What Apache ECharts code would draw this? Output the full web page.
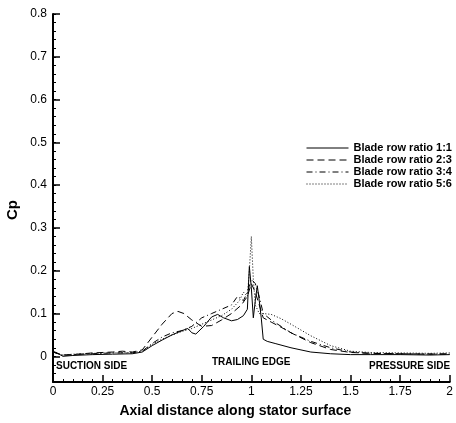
<!DOCTYPE html>
<html><head><meta charset="utf-8">
<script src="https://cdn.jsdelivr.net/npm/echarts@6/dist/echarts.min.js"></script>
<style>html,body{margin:0;padding:0;background:#fff}#c{width:456px;height:423px}</style>
</head><body><div id="c"></div>
<script>
var seriesNames = ['Blade row ratio 1:1','Blade row ratio 2:3','Blade row ratio 3:4','Blade row ratio 5:6'];
var xTicks = [0,0.25,0.5,0.75,1,1.25,1.5,1.75,2];
var yTicks = [0,0.1,0.2,0.3,0.4,0.5,0.6,0.7,0.8];
var yMinor = [-0.06,-0.04,-0.02,0,0.02,0.04,0.06,0.08,0.1,0.12,0.14,0.16,0.18,0.2,0.22,0.24,0.26,0.28,0.3,0.32,0.34,0.36,0.38,0.4,0.42,0.44,0.46,0.48,0.5,0.52,0.54,0.56,0.58,0.6,0.62,0.64,0.66,0.68,0.7,0.72,0.74,0.76,0.78,0.8];
var ratio11 = [[0,0.012],[0.02,0.008],[0.05,0.0],[0.1,0.002],[0.2,0.004],[0.3,0.005],[0.4,0.006],[0.45,0.01],[0.5,0.025],[0.55,0.038],[0.6,0.05],[0.65,0.06],[0.68,0.065],[0.7,0.055],[0.72,0.052],[0.76,0.07],[0.8,0.092],[0.83,0.098],[0.86,0.09],[0.9,0.083],[0.93,0.086],[0.96,0.095],[0.98,0.11],[0.99,0.21],[1.0,0.16],[1.01,0.09],[1.02,0.13],[1.03,0.165],[1.04,0.13],[1.05,0.09],[1.06,0.04],[1.08,0.035],[1.12,0.03],[1.2,0.02],[1.3,0.01],[1.4,0.006],[1.5,0.004],[1.6,0.004],[1.75,0.004],[1.9,0.003],[2.0,0.004]];
var ratio23 = [[0,0.01],[0.05,0.003],[0.1,0.004],[0.2,0.008],[0.3,0.01],[0.35,0.012],[0.4,0.01],[0.45,0.015],[0.5,0.045],[0.55,0.075],[0.6,0.1],[0.63,0.105],[0.66,0.1],[0.7,0.085],[0.75,0.07],[0.8,0.072],[0.85,0.085],[0.9,0.1],[0.95,0.12],[0.98,0.14],[1.0,0.17],[1.02,0.15],[1.04,0.12],[1.06,0.09],[1.1,0.08],[1.15,0.068],[1.2,0.055],[1.3,0.032],[1.4,0.016],[1.5,0.009],[1.6,0.007],[1.75,0.006],[1.9,0.005],[2.0,0.006]];
var ratio34 = [[0,0.01],[0.05,0.002],[0.1,0.004],[0.2,0.006],[0.3,0.008],[0.4,0.008],[0.45,0.012],[0.5,0.03],[0.55,0.045],[0.6,0.055],[0.65,0.06],[0.7,0.07],[0.75,0.09],[0.8,0.1],[0.85,0.11],[0.9,0.12],[0.93,0.14],[0.96,0.13],[0.98,0.15],[1.0,0.18],[1.02,0.17],[1.04,0.14],[1.06,0.1],[1.1,0.085],[1.15,0.07],[1.2,0.055],[1.3,0.035],[1.4,0.02],[1.5,0.01],[1.6,0.007],[1.75,0.006],[2.0,0.005]];
var ratio56 = [[0,0.01],[0.05,0.003],[0.1,0.005],[0.2,0.007],[0.3,0.008],[0.4,0.009],[0.45,0.012],[0.5,0.028],[0.55,0.04],[0.6,0.05],[0.65,0.058],[0.7,0.065],[0.75,0.075],[0.8,0.085],[0.85,0.095],[0.9,0.11],[0.94,0.13],[0.96,0.15],[0.98,0.14],[0.99,0.2],[1.0,0.28],[1.01,0.18],[1.02,0.12],[1.04,0.1],[1.06,0.1],[1.1,0.098],[1.15,0.088],[1.2,0.075],[1.3,0.048],[1.4,0.025],[1.5,0.012],[1.6,0.009],[1.75,0.008],[1.9,0.007],[2.0,0.008]];
var annotations = ['SUCTION SIDE','TRAILING EDGE','PRESSURE SIDE'];
var yTitle = 'Cp';

var FONT = 'Liberation Sans, Arial, sans-serif';
var dashTypes = ['solid',[7,4],[6,3,1,3],[1,2]];
var allData = [ratio11, ratio23, ratio34, ratio56];
var chart = echarts.init(document.getElementById('c'));
chart.setOption({
  animation:false,
  backgroundColor:'#fff',
  grid:{left:53,right:6,top:14,bottom:38},
  legend:{
    orient:'vertical', left:301, top:137, itemWidth:42, itemHeight:12, itemGap:0,
    itemStyle:{opacity:0},
    lineStyle:{width:1},
    textStyle:{fontFamily:FONT,fontWeight:'bold',fontSize:11,lineHeight:12,color:'#000'},
    data:seriesNames
  },
  xAxis:{
    type:'value', min:0, max:2, interval:0.25,
    name:'Axial distance along stator surface', nameLocation:'middle', nameGap:22,
    nameTextStyle:{fontFamily:FONT,fontWeight:'bold',fontSize:14,color:'#000',padding:[0,32,0,0]},
    axisLine:{onZero:false,lineStyle:{color:'#000',width:2}},
    axisTick:{inside:true,length:7,lineStyle:{color:'#000',width:1.5}},
    minorTick:{show:true,splitNumber:5,length:3,lineStyle:{color:'#000'}},
    axisLabel:{fontFamily:FONT,fontSize:12,color:'#000',margin:4,
      formatter:function(v){return String(v);}},
    splitLine:{show:false}
  },
  yAxis:[{
    type:'value', min:-0.06, max:0.8,
    axisLine:{show:true,onZero:false,lineStyle:{color:'#000',width:2}},
    axisTick:{show:true,inside:true,length:7,customValues:yTicks,lineStyle:{color:'#000',width:1.5}},
    axisLabel:{fontFamily:FONT,fontSize:12,color:'#000',margin:6,customValues:yTicks,
      formatter:function(v){return v===0?'0':v.toFixed(1);}},
    splitLine:{show:false}
  },{
    type:'value', min:-0.06, max:0.8, position:'left', offset:0,
    axisLine:{show:false,onZero:false},
    axisTick:{show:true,inside:true,length:3,customValues:yMinor,lineStyle:{color:'#000'}},
    axisLabel:{show:false},
    splitLine:{show:false}
  }],
  graphic:[
    {type:'text',left:56,top:361,style:{text:annotations[0],font:'bold 10px '+FONT,fill:'#000'}},
    {type:'text',left:212,top:357,style:{text:annotations[1],font:'bold 10px '+FONT,fill:'#000'}},
    {type:'text',left:369,top:361,style:{text:annotations[2],font:'bold 10px '+FONT,fill:'#000'}},
    {type:'text',left:5,top:200,rotation:Math.PI/2,style:{text:yTitle,font:'bold 15px '+FONT,fill:'#000'}}
  ],
  series: allData.map(function(d,i){
    return {name:seriesNames[i],type:'line',data:d,showSymbol:false,symbol:'none',
      lineStyle:{color:'#000',width:1,type:dashTypes[i]},itemStyle:{color:'#000'}};
  })
});
</script></body></html>
